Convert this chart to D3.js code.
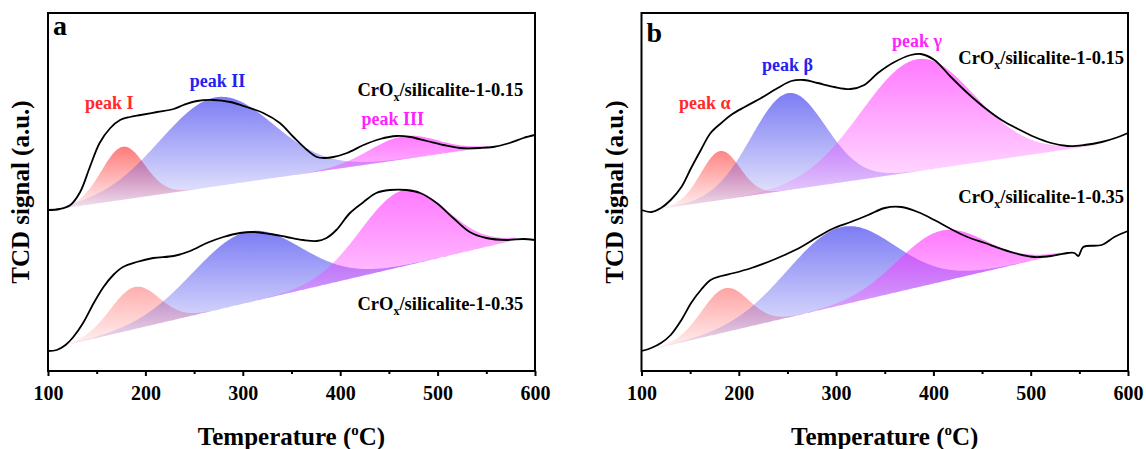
<!DOCTYPE html>
<html><head><meta charset="utf-8">
<script src="https://cdn.jsdelivr.net/npm/d3@7"></script>
<style>
body{margin:0;background:#fff}
text{font-family:"Liberation Serif","Times New Roman",serif;font-weight:bold}
</style>
</head><body>
<svg id="chart" width="1146" height="449"></svg>
<script>
// ---------------- data ----------------
const xTicks = [100, 200, 300, 400, 500, 600];
const xMinorTicks = [150, 250, 350, 450, 550];
const panelLetters = ["a", "b"];
const sampleNames = ["0.15", "0.35"];
const peakNamesA = ["peak I", "peak II", "peak III"];
const peakNamesB = ["peak \u03b1", "peak \u03b2", "peak \u03b3"];

// Panel a, CrOx/silicalite-1-0.15 (TCD signal, a.u.)
const aTopT = [100,112,123,133,143,153,164,174,184,195,212,229,239,253,270,287,304,321,338,352,366,376,384,393,407,424,441,458,472,489,506,523,544,557,574,588,600];
const aTopV = [161,162,166,179,204,228,243,251,254,256,259,262,266,270,271,269,264,258,248,234,221,214,213,214,218,226,232,235,234,230,226,223,223,224,228,233,236];
// Panel a, CrOx/silicalite-1-0.35
const aBotT = [100,109,118,126,136,147,157,167,177,191,208,229,246,263,280,297,311,328,345,362,376,386,396,410,424,437,451,468,482,499,516,533,550,571,588,600];
const aBotV = [20,21,26,34,48,68,84,96,104,109,113,115,120,128,134,138,139,137,134,131,130,133,141,158,169,178,181,181,178,168,153,139,133,131,132,131];
// Panel b, CrOx/silicalite-1-0.15
const bTopT = [100,110,120,130,141,151,161,171,182,192,206,223,240,254,267,281,298,315,329,343,360,377,387,401,418,435,453,470,487,504,521,538,555,573,590,600];
const bTopV = [161,159,163,171,184,203,221,238,248,256,264,273,283,290,291,288,284,282,286,298,309,316,317,311,294,278,263,251,242,234,228,225,226,229,234,238];
// Panel b, CrOx/silicalite-1-0.35
const bBotT = [100,110,120,130,141,151,161,171,182,195,213,230,247,264,281,298,315,333,350,367,384,401,418,435,453,470,487,504,521,538,545,549,554,573,586,600];
const bBotV = [20,23,28,36,51,68,81,91,95,98,103,109,116,124,134,143,149,156,163,164,159,151,142,134,128,122,117,114,115,118,118,115,124,126,134,140];

// linear baselines: [T start, signal start, T end, signal end]
const aTopBase = [118, 163, 552, 224];
const aBotBase = [119, 26, 580, 131];
const bTopBase = [118, 162, 568, 226];
const bBotBase = [112, 22, 530, 117];

// fitted peaks: centre (degC), height above baseline (a.u.), width sigma (degC)
const aTopCenters = [177, 273, 465], aTopHeights = [53, 89, 23], aTopSigmas = [22, 58, 35];
const aBotCenters = [189, 304, 465], aBotHeights = [42, 71, 76], aBotSigmas = [25, 55, 44];
const bTopCenters = [181, 251, 384], bTopHeights = [49, 97, 112], bTopSigmas = [20, 38, 58];
const bBotCenters = [186, 305, 408], bBotHeights = [44, 78, 51], bBotSigmas = [24, 55, 45];

const peakColors = ["#ff3030", "#3333ee", "#ff30ff"];
const labelColors = ["#ff2a2a", "#2323ee", "#ff22ff"];

// ---------------- drawing ----------------
const svg = d3.select("#chart");
const defs = svg.append("defs");
const yTop = 13, yBot = 371;

function drawPanel(p) {
  const g = svg.append("g");
  const x = d3.scaleLinear().domain([100, 600]).range([p.left, p.right]);
  const y = d3.scaleLinear().domain([0, 358]).range([yBot, yTop]);

  const curves = [
    {T: p.topT, V: p.topV, base: p.topBase, c: p.topC, h: p.topH, s: p.topS},
    {T: p.botT, V: p.botV, base: p.botBase, c: p.botC, h: p.botH, s: p.botS}
  ];

  curves.forEach((cv, ci) => {
    const [t0, v0, t1, v1] = cv.base;
    const baseAt = t => v0 + (v1 - v0) * (t - t0) / (t1 - t0);
    const ts = d3.range(t0, t1 + 0.01, 1);
    cv.c.forEach((cen, k) => {
      const id = `grad-${p.letter}-${ci}-${k}`;
      const gr = defs.append("linearGradient").attr("id", id)
        .attr("x1", 0).attr("y1", 0).attr("x2", 0).attr("y2", 1);
      gr.append("stop").attr("offset", "0%").attr("stop-color", peakColors[k]).attr("stop-opacity", 0.64);
      gr.append("stop").attr("offset", "100%").attr("stop-color", peakColors[k]).attr("stop-opacity", 0.07);
      const pts = ts.map(t => ({t, lo: baseAt(t), hi: baseAt(t) + cv.h[k] * Math.exp(-0.5 * Math.pow((t - cen) / cv.s[k], 2))}));
      const area = d3.area().x(d => x(d.t)).y0(d => y(d.lo)).y1(d => y(d.hi));
      g.append("path").attr("d", area(pts)).attr("fill", `url(#${id})`).attr("stroke", "none");
    });
  });

  curves.forEach(cv => {
    const line = d3.line().x(d => x(d[0])).y(d => y(d[1])).curve(d3.curveCatmullRom.alpha(0.5));
    g.append("path").attr("d", line(cv.T.map((t, i) => [t, cv.V[i]])))
      .attr("fill", "none").attr("stroke", "#000").attr("stroke-width", 1.8)
      .attr("stroke-linejoin", "round");
  });

  // frame
  g.append("rect").attr("x", p.left).attr("y", yTop).attr("width", p.right - p.left).attr("height", yBot - yTop)
    .attr("fill", "none").attr("stroke", "#000").attr("stroke-width", 2);

  // x axis
  const ax = g.append("g").attr("transform", `translate(0,${yBot})`)
    .call(d3.axisBottom(x).tickValues(xTicks).tickSize(5).tickPadding(10).tickFormat(d3.format("d")));
  ax.select(".domain").remove();
  ax.selectAll(".tick line").attr("stroke", "#000").attr("stroke-width", 2);
  ax.selectAll(".tick text").attr("font-size", 20).attr("fill", "#000")
    .attr("font-family", "Liberation Serif, serif").attr("font-weight", "bold");
  const axm = g.append("g").attr("transform", `translate(0,${yBot})`)
    .call(d3.axisBottom(x).tickValues(xMinorTicks).tickSize(3).tickFormat(""));
  axm.select(".domain").remove();
  axm.selectAll(".tick line").attr("stroke", "#000").attr("stroke-width", 2);

  // axis titles
  const xt = g.append("text").attr("x", (p.left + p.right) / 2).attr("y", 445)
    .attr("text-anchor", "middle").attr("font-size", 25).attr("fill", "#000");
  xt.append("tspan").text("Temperature (");
  xt.append("tspan").text("o").attr("font-size", 15).attr("dy", -10);
  xt.append("tspan").text("C)").attr("dy", 10);

  g.append("text").attr("transform", `translate(${p.left - 19},192) rotate(-90)`)
    .attr("text-anchor", "middle").attr("font-size", 25).attr("fill", "#000")
    .text("TCD signal (a.u.)");

  // panel letter
  g.append("text").attr("x", p.left + 5).attr("y", p.letterY).attr("font-size", 28).attr("fill", "#000").text(p.letter);

  // peak labels
  p.peakLabels.forEach((lb, k) => {
    g.append("text").attr("x", x(lb[0])).attr("y", y(lb[1])).attr("text-anchor", "middle")
      .attr("font-size", 18).attr("fill", labelColors[k]).text(p.peakNames[k]);
  });

  // sample labels
  p.sampleLabels.forEach((lb, k) => {
    const t = g.append("text").attr("x", x(lb[0])).attr("y", y(lb[1])).attr("text-anchor", "end")
      .attr("font-size", 18.5).attr("fill", "#000");
    t.append("tspan").text("CrO");
    t.append("tspan").text("x").attr("font-size", 12).attr("dy", 5);
    t.append("tspan").text("/silicalite-1-" + sampleNames[k]).attr("dy", -5);
  });
}

drawPanel({
  letter: panelLetters[0], letterY: 35, left: 48, right: 535,
  topT: aTopT, topV: aTopV, topBase: aTopBase, topC: aTopCenters, topH: aTopHeights, topS: aTopSigmas,
  botT: aBotT, botV: aBotV, botBase: aBotBase, botC: aBotCenters, botH: aBotHeights, botS: aBotSigmas,
  peakNames: peakNamesA,
  peakLabels: [[163, 262], [274, 284], [454, 246]],
  sampleLabels: [[588, 275], [588, 61]]
});
drawPanel({
  letter: panelLetters[1], letterY: 42, left: 641.5, right: 1128,
  topT: bTopT, topV: bTopV, topBase: bTopBase, topC: bTopCenters, topH: bTopHeights, topS: bTopSigmas,
  botT: bBotT, botV: bBotV, botBase: bBotBase, botC: bBotCenters, botH: bBotHeights, botS: bBotSigmas,
  peakNames: peakNamesB,
  peakLabels: [[165, 262], [250, 300], [383, 324]],
  sampleLabels: [[596, 307], [596, 168]]
});
</script>
</body></html>
